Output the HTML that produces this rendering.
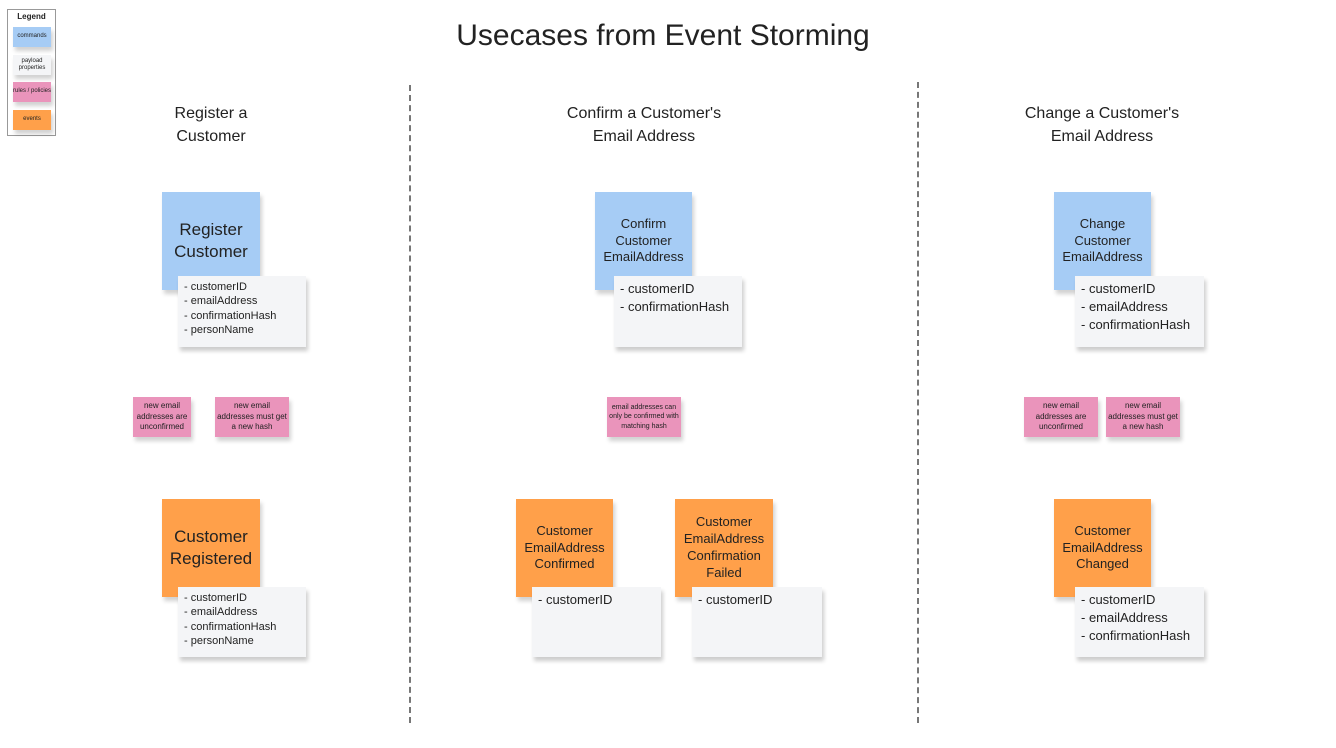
<!DOCTYPE html>
<html><head><meta charset="utf-8"><style>
body{margin:0;width:1336px;height:748px;background:#fff;position:relative;overflow:hidden;font-family:"Liberation Sans","DejaVu Sans",sans-serif;color:#222}
.a{position:absolute}
.s{position:absolute;box-sizing:border-box;display:flex;align-items:center;justify-content:center;text-align:center;line-height:1.3;box-shadow:2px 4px 4px rgba(0,0,0,0.18)}
.b{background:#a6ccf5}.o{background:#ffa04a}.p{background:#ea94bb;font-size:8px;line-height:1.35}
.w{position:absolute;box-sizing:border-box;background:#f4f5f7;padding:4px 6px;line-height:1.3;box-shadow:2px 4px 4px rgba(0,0,0,0.2);font-size:11px}
.w2{font-size:13px;line-height:1.4}
.h{position:absolute;text-align:center;font-size:16px;line-height:23px}
.d{position:absolute;width:0;border-left:2px dashed #777}
</style></head><body>
<div class="a" style="left:7px;top:9px;width:49px;height:127px;border:1px solid #999;box-sizing:border-box"></div>
<div class="a" style="left:7px;top:12px;width:49px;text-align:center;font-size:8px;font-weight:bold">Legend</div>
<div class="s b" style="left:13px;top:27px;width:38px;height:20px;font-size:6px">commands</div>
<div class="s" style="left:13px;top:55px;width:38px;height:20px;font-size:6px;background:#f4f5f7;line-height:1.2">payload properties</div>
<div class="s p" style="left:13px;top:82px;width:38px;height:20px;font-size:6px;line-height:1.2">rules / policies</div>
<div class="s o" style="left:13px;top:110px;width:38px;height:20px;font-size:6px">events</div>

<div class="a" style="left:0;width:1326px;top:19px;text-align:center;font-size:30px">Usecases from Event Storming</div>
<div class="d" style="left:409px;top:85px;height:638px"></div>
<div class="d" style="left:917px;top:82px;height:641px"></div>

<div class="h" style="left:111px;width:200px;top:102px">Register a<br>Customer</div>
<div class="h" style="left:544px;width:200px;top:102px">Confirm a Customer's<br>Email Address</div>
<div class="h" style="left:1002px;width:200px;top:102px">Change a Customer's<br>Email Address</div>

<div class="s b" style="left:162px;top:192px;width:98px;height:98px;font-size:17px">Register<br>Customer</div>
<div class="w" style="left:178px;top:276px;width:128px;height:71px">- customerID<br>- emailAddress<br>- confirmationHash<br>- personName</div>
<div class="s p" style="left:133px;top:397px;width:58px;height:40px">new email addresses are unconfirmed</div>
<div class="s p" style="left:215px;top:397px;width:74px;height:40px">new email addresses must get a new hash</div>
<div class="s o" style="left:162px;top:499px;width:98px;height:98px;font-size:17px">Customer<br>Registered</div>
<div class="w" style="left:178px;top:587px;width:128px;height:70px">- customerID<br>- emailAddress<br>- confirmationHash<br>- personName</div>

<div class="s b" style="left:595px;top:192px;width:97px;height:98px;font-size:13px">Confirm<br>Customer<br>EmailAddress</div>
<div class="w w2" style="left:614px;top:276px;width:128px;height:71px">- customerID<br>- confirmationHash</div>
<div class="s p" style="left:607px;top:397px;width:74px;height:40px;font-size:7px">email addresses can only be confirmed with matching hash</div>
<div class="s o" style="left:516px;top:499px;width:97px;height:98px;font-size:13px">Customer<br>EmailAddress<br>Confirmed</div>
<div class="w w2" style="left:532px;top:587px;width:129px;height:70px">- customerID</div>
<div class="s o" style="left:675px;top:499px;width:98px;height:98px;font-size:13px">Customer<br>EmailAddress<br>Confirmation<br>Failed</div>
<div class="w w2" style="left:692px;top:587px;width:130px;height:70px">- customerID</div>

<div class="s b" style="left:1054px;top:192px;width:97px;height:98px;font-size:13px">Change<br>Customer<br>EmailAddress</div>
<div class="w w2" style="left:1075px;top:276px;width:129px;height:71px">- customerID<br>- emailAddress<br>- confirmationHash</div>
<div class="s p" style="left:1024px;top:397px;width:74px;height:40px">new email addresses are unconfirmed</div>
<div class="s p" style="left:1106px;top:397px;width:74px;height:40px">new email addresses must get a new hash</div>
<div class="s o" style="left:1054px;top:499px;width:97px;height:98px;font-size:13px">Customer<br>EmailAddress<br>Changed</div>
<div class="w w2" style="left:1075px;top:587px;width:129px;height:70px">- customerID<br>- emailAddress<br>- confirmationHash</div>
</body></html>
